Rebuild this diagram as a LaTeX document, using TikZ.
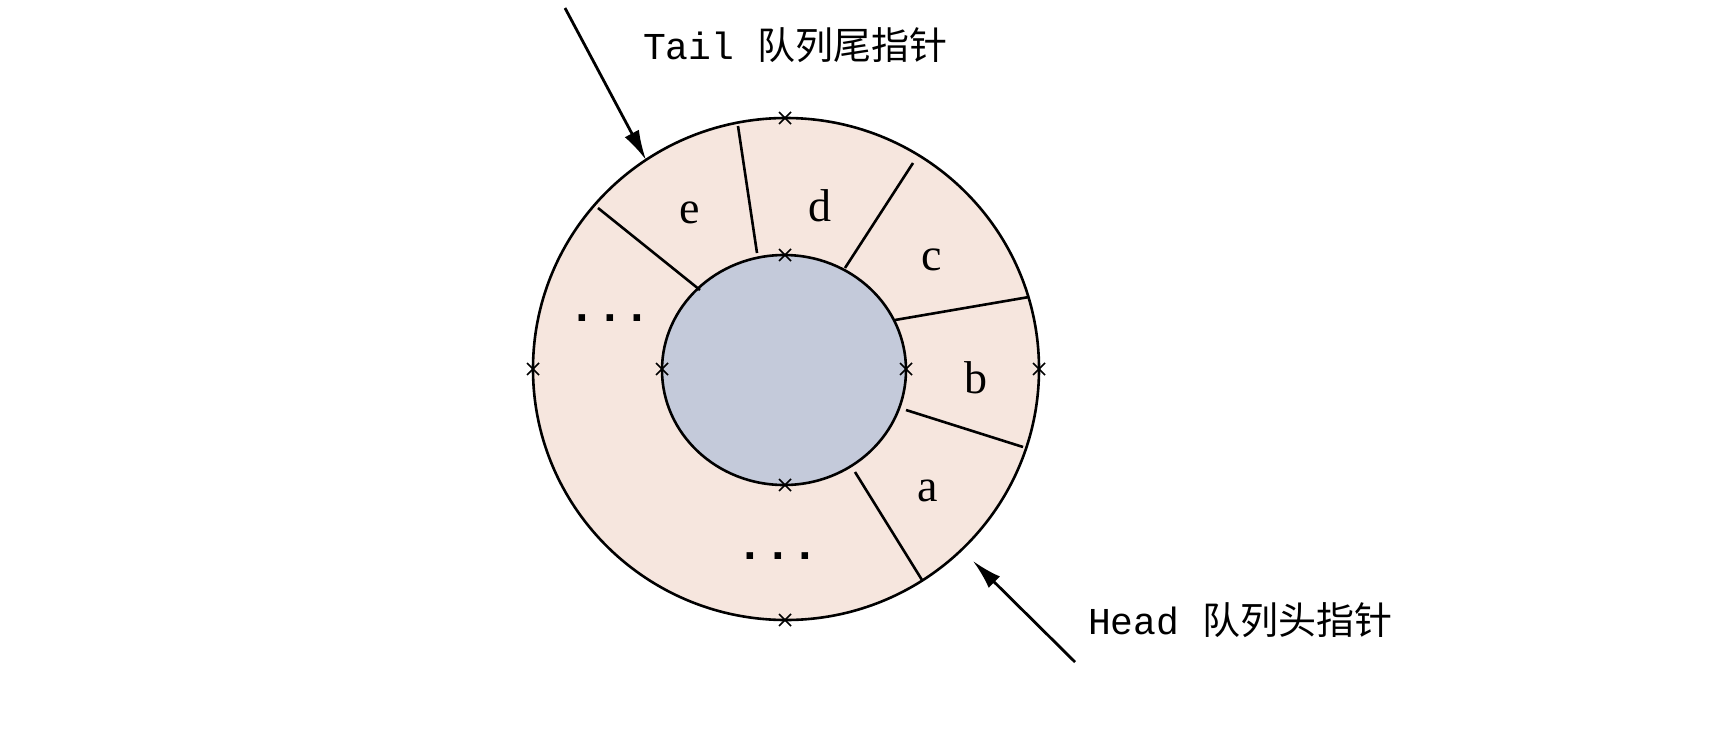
\documentclass[tikz,border=0pt]{standalone}
\usepackage{fontspec}
\usetikzlibrary{arrows.meta}
\setmainfont{Liberation Serif}
\newfontfamily\cjk{Noto Sans CJK SC}
\newfontfamily\monof{Liberation Mono}
\begin{document}
\begin{tikzpicture}[x=1pt,y=-1pt,
  lbl/.style={font=\fontsize{46}{48}\selectfont},
  ptrlabel/.style={font=\fontsize{38}{40}\selectfont, anchor=center},
  arr/.style={line width=2.8pt,-{Latex[length=30pt,width=16pt]}},
  ln/.style={line width=2.6pt},
  xm/.style={line width=1.6pt}]
\useasboundingbox (0,0) rectangle (1720,734);
\coordinate (c) at (786,369);
\fill[fill={rgb,255:red,246;green,230;blue,222}] (c) ellipse [x radius=253, y radius=251];
\draw[ln] (c) ellipse [x radius=253, y radius=251];
\draw[ln, fill={rgb,255:red,196;green,202;blue,218}] (784,370) ellipse [x radius=122, y radius=115];
\draw[ln] (757,253) -- (738,126);
\draw[ln] (845,268) -- (913,163);
\draw[ln] (895,320) -- (1029,297);
\draw[ln] (906,410) -- (1023,447);
\draw[ln] (855,472) -- (922,580);
\draw[ln] (700,290) -- (598,208);
\foreach \p in {(785,118),(785,620),(533,369),(1039,369),(785,255),(785,485),(662,369),(906,369)}{
  \draw[xm] \p ++(-6,-6) -- ++(12,12);
  \draw[xm] \p ++(-6,6) -- ++(12,-12);
}
\node[lbl] (e) at (690,213) {e};
\node[lbl] (d) at (820,206) {d};
\node[lbl] (cc) at (932,260) {c};
\node[lbl] (b) at (976,378) {b};
\node[lbl] (a) at (928,491) {a};
\node[lbl] (d1) at (610,318) {\monof\bfseries ...};
\node[lbl] (d2) at (778,556) {\monof\bfseries ...};
\node[ptrlabel] (tail) at (795,45) {\monof Tail \cjk 队列尾指针};
\node[ptrlabel] (head) at (1240,620) {\monof Head \cjk 队列头指针};
\coordinate (ts) at (565,8);
\coordinate (te) at (646,160);
\coordinate (hs) at (1075,662);
\coordinate (he) at (973,561);
\draw[arr] (ts) -- (te);
\draw[arr] (hs) -- (he);
\end{tikzpicture}
\end{document}
